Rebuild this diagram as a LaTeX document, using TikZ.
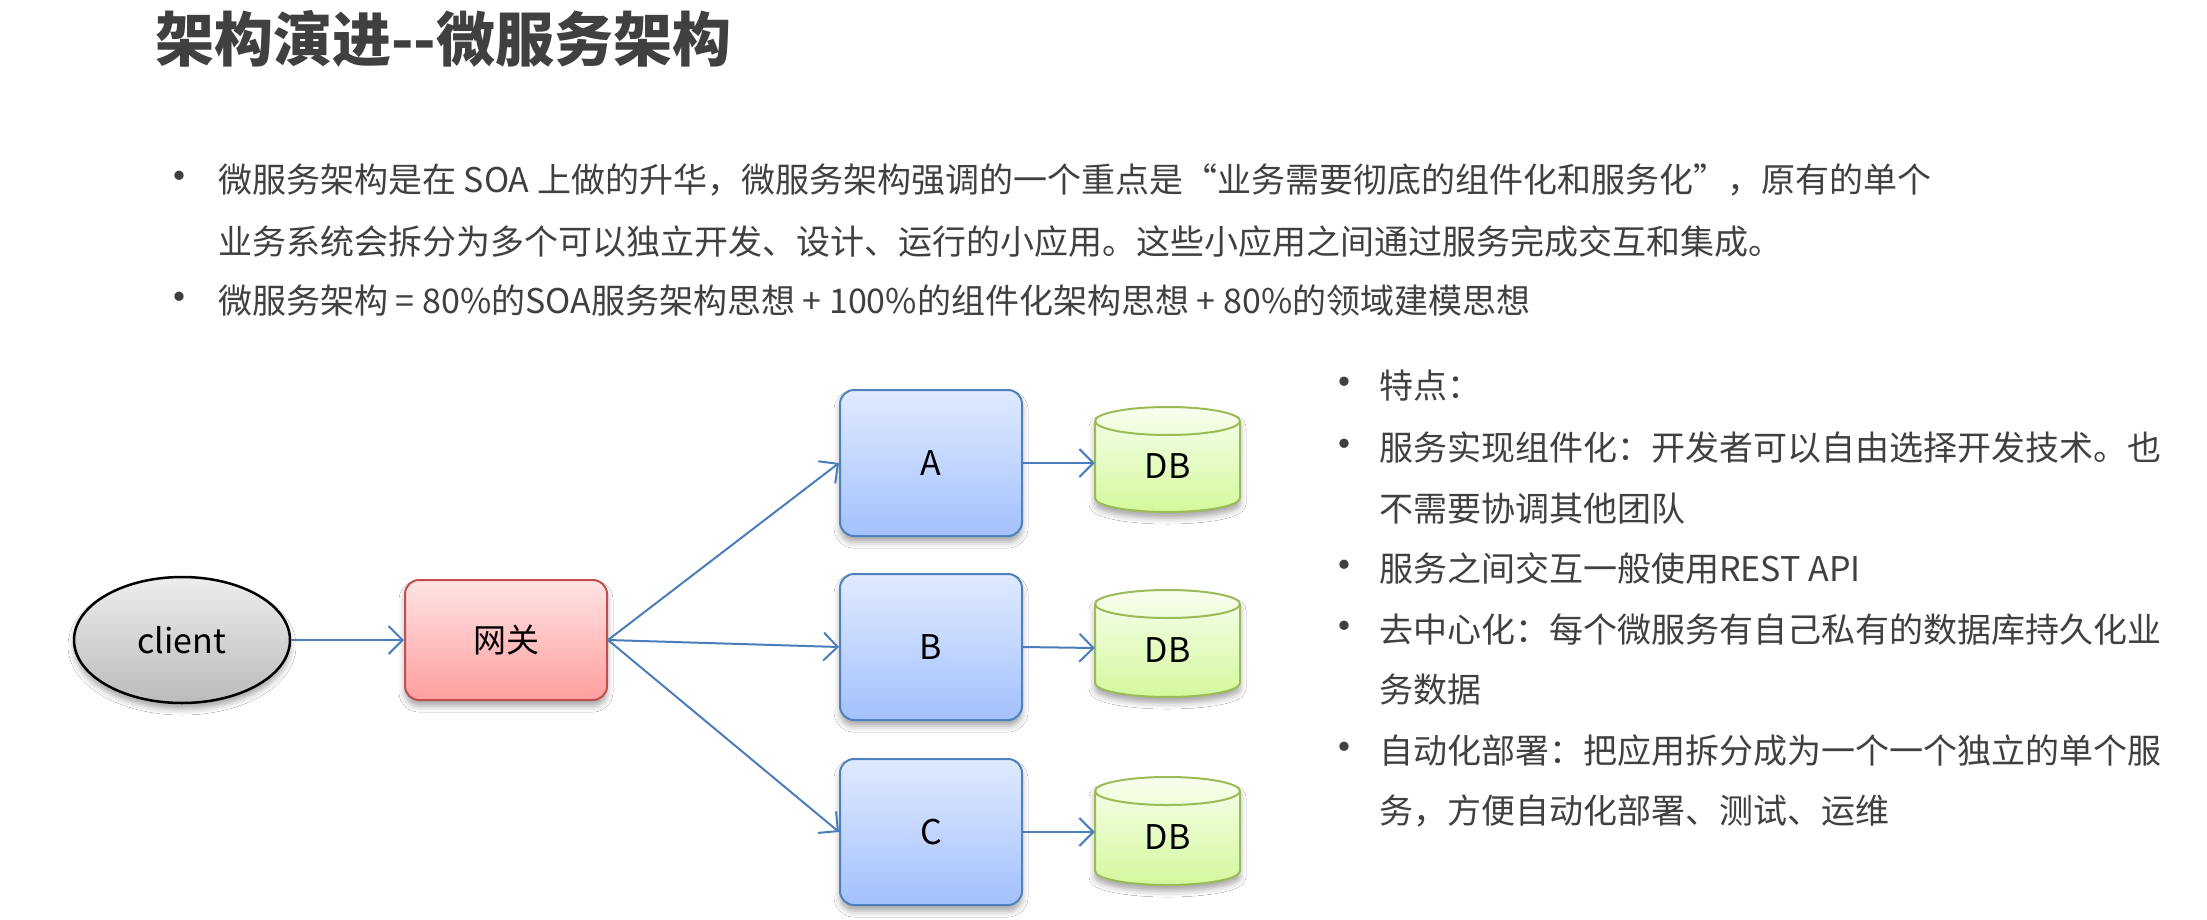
\documentclass[tikz,border=0pt]{standalone}
\usepackage{fontspec}
\setmainfont{Noto Sans CJK SC}
\usetikzlibrary{shapes.geometric,shadows.blur,arrows.meta}
\definecolor{txt}{HTML}{404040}
\definecolor{arr}{HTML}{4A7EBB}
\definecolor{gwtop}{HTML}{FFE4E4}
\definecolor{gwbot}{HTML}{FF9E9E}
\definecolor{gwbd}{HTML}{C0504D}
\definecolor{svtop}{HTML}{E0EAFF}
\definecolor{svbot}{HTML}{A3C1FD}
\definecolor{svbd}{HTML}{4F81BD}
\definecolor{dbtop}{HTML}{F8FFEF}
\definecolor{dbbot}{HTML}{D4F89C}
\definecolor{dbbd}{HTML}{9BBB59}
\definecolor{cltop}{HTML}{EDEDED}
\definecolor{clbot}{HTML}{BBBBBB}
\tikzset{
  shad/.style={blur shadow={shadow xshift=0pt,shadow yshift=-6pt,shadow blur radius=6pt,shadow opacity=35}},
  body/.style={anchor=base west,inner sep=0pt,text=txt,font=\fontsize{34}{34}\selectfont},
  rbody/.style={anchor=base west,inner sep=0pt,text=txt,font=\fontsize{34}{34}\selectfont},
  bul/.style={anchor=base,inner sep=0pt,text=txt,font=\fontsize{44}{44}\selectfont},
  svbox/.style={draw=svbd,line width=2pt,rounded corners=14pt,top color=svtop,bottom color=svbot,
     minimum width=182pt,minimum height=146pt,shad,font=\fontsize{34}{34}\selectfont},
  gwbox/.style={draw=gwbd,line width=2pt,rounded corners=14pt,top color=gwtop,bottom color=gwbot,
     minimum width=202pt,minimum height=120pt,shad,font=\fontsize{33}{33}\selectfont},
  clnode/.style={ellipse,draw=black,line width=2.5pt,top color=cltop,bottom color=clbot,
     minimum width=216pt,minimum height=126pt,shad,font=\fontsize{34}{34}\selectfont},
  dbnode/.style={minimum width=145pt,minimum height=105pt,inner sep=0pt,font=\fontsize{34}{34}\selectfont},
  conn/.style={draw=arr,line width=2pt,-{Straight Barb[length=14pt,width=28pt]}}
}
\newcommand\dbcyl[3]{% cx, top y, bottom y (y down, positive numbers)
  \path[shad,draw=dbbd,line width=2pt,top color=dbtop,bottom color=dbbot]
    (#1-72.5,-#2-14) -- (#1-72.5,-#3+14)
    arc[start angle=180,end angle=360,x radius=72.5,y radius=14]
    -- (#1+72.5,-#2-14)
    arc[start angle=0,end angle=180,x radius=72.5,y radius=14] -- cycle;
  \draw[dbbd,line width=2pt] (#1-72.5,-#2-14)
    arc[start angle=180,end angle=360,x radius=72.5,y radius=14];
}
\begin{document}
\begin{tikzpicture}[x=1pt,y=1pt]
\useasboundingbox (0,0) rectangle (2207,-920);
\fill[white] (0,0) rectangle (2207,-920);

% title
\node[anchor=base west,inner sep=0pt,text=txt,font=\fontsize{59}{59}\selectfont\bfseries] (title) at (155,-62) {架构演进{-}{-}微服务架构};

% top bullets
\node[bul] (b1) at (179,-193) {•};
\node[body] (t1) at (218,-193) {微服务架构是在 SOA 上做的升华，微服务架构强调的一个重点是“业务需要彻底的组件化和服务化”，原有的单个};
\node[body] (t2) at (218,-254) {业务系统会拆分为多个可以独立开发、设计、运行的小应用。这些小应用之间通过服务完成交互和集成。};
\node[bul] (b2) at (179,-313) {•};
\node[body] (t3) at (218,-313) {微服务架构 = 80\%的SOA服务架构思想 + 100\%的组件化架构思想 + 80\%的领域建模思想};

% right list
\node[bul] (r1b) at (1344,-398) {•};
\node[rbody] (r1) at (1379,-398) {特点：};
\node[bul] (r2b) at (1344,-460) {•};
\node[rbody] (r2) at (1379,-460) {服务实现组件化：开发者可以自由选择开发技术。也};
\node[rbody] (r3) at (1379,-521) {不需要协调其他团队};
\node[bul] (r4b) at (1344,-581) {•};
\node[rbody] (r4) at (1379,-581) {服务之间交互一般使用REST API};
\node[bul] (r5b) at (1344,-642) {•};
\node[rbody] (r5) at (1379,-642) {去中心化：每个微服务有自己私有的数据库持久化业};
\node[rbody] (r6) at (1379,-702) {务数据};
\node[bul] (r7b) at (1344,-763) {•};
\node[rbody] (r7) at (1379,-763) {自动化部署：把应用拆分成为一个一个独立的单个服};
\node[rbody] (r8) at (1379,-823) {务，方便自动化部署、测试、运维};

% diagram
\node[clnode] (client) at (182,-640) {client};
\node[gwbox] (gw) at (506,-640) {网关};
\node[svbox] (A) at (931,-463) {A};
\node[svbox] (B) at (931,-647) {B};
\node[svbox] (C) at (931,-832) {C};

\dbcyl{1167.5}{407}{512}
\dbcyl{1167.5}{590}{697}
\dbcyl{1167.5}{777}{885}
\node[dbnode] (dbA) at (1167.5,-466) {DB};
\node[dbnode] (dbB) at (1167.5,-650) {DB};
\node[dbnode] (dbC) at (1167.5,-837) {DB};

\draw[conn] (client.east) -- (gw.west);
\draw[conn] (gw.east) -- (A.west);
\draw[conn] (gw.east) -- (B.west);
\draw[conn] (gw.east) -- (C.west);
\draw[conn] (A.east) -- (A.east -| dbA.west);
\draw[conn] (B.east) -- ([yshift=2pt]dbB.west);
\draw[conn] (C.east) -- (C.east -| dbC.west);
\end{tikzpicture}
\end{document}
